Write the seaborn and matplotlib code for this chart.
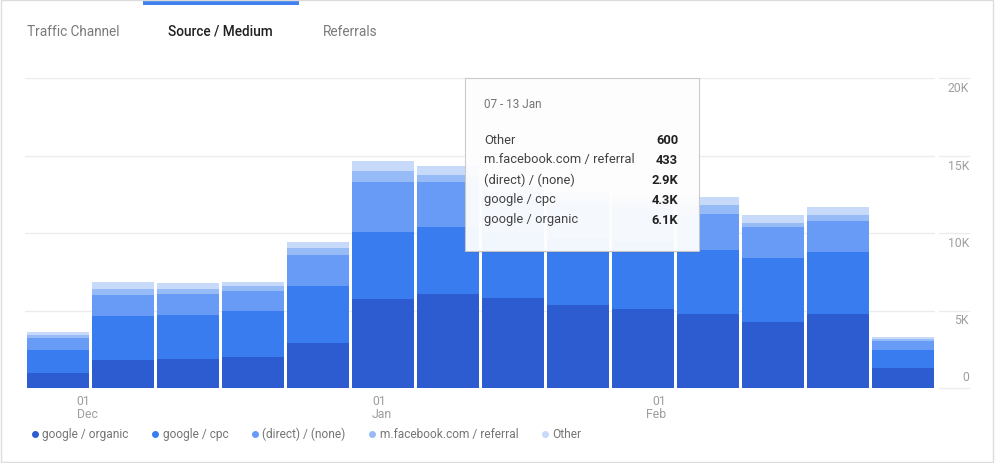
import numpy as np
import seaborn as sns
import matplotlib.pyplot as plt
from matplotlib.lines import Line2D
from matplotlib.patches import Rectangle

# weekly sessions per source / medium (weeks start on Monday)
weeks = ['26 Nov', '03 Dec', '10 Dec', '17 Dec', '24 Dec', '31 Dec', '07 Jan',
         '14 Jan', '21 Jan', '28 Jan', '04 Feb', '11 Feb', '18 Feb', '25 Feb']
sources = ['google / organic', 'google / cpc', '(direct) / (none)',
           'm.facebook.com / referral', 'Other']
organic = [970, 1810, 1870, 2000, 2910, 5750, 6080, 5820, 5370, 5110, 4780, 4270, 4780, 1290]
cpc = [1490, 2840, 2850, 2970, 3680, 4330, 4330, 4200, 4300, 4300, 4140, 4140, 4010, 1160]
direct = [780, 1360, 1360, 1290, 2000, 3230, 2910, 2300, 2200, 2200, 2330, 2000, 2000, 580]
facebook = [190, 390, 320, 320, 450, 710, 433, 350, 300, 300, 580, 260, 390, 130]
other = [190, 450, 390, 260, 390, 650, 600, 450, 450, 400, 520, 520, 520, 130]
colors = ['#2c5cd0', '#397cf0', '#679bf5', '#97bbf7', '#c7daf9']

y_ticks = [0, 5000, 10000, 15000, 20000]
x_tick_labels = ['01\nDec', '01\nJan', '01\nFeb']
x_tick_pos = [0.29, 4.83, 9.36]

tabs = ['Traffic Channel', 'Source / Medium', 'Referrals']
tooltip_title = '07 - 13 Jan'
hover = 6  # index of the hovered week

sns.set_style('white')
plt.rcParams['font.family'] = ['Roboto', 'DejaVu Sans']

W, H = 996, 463
fig = plt.figure(figsize=(W / 100, H / 100), dpi=100)


def fx(px):
    return px / W


def fy(py):
    return 1 - py / H


def fmt_k(v):
    if v >= 1000:
        return f'{v / 1000:.1f}K'
    return str(int(v))


ax = fig.add_axes([fx(25), fy(388), fx(935) - fx(25), fy(78) - fy(388)])

series = [organic, cpc, direct, facebook, other]
stack = np.cumsum(np.array(series, dtype=float), axis=0)
# draw the tallest cumulative layer first, smaller ones on top
for i in reversed(range(len(series))):
    sns.barplot(x=weeks, y=stack[i], order=weeks, color=colors[i], saturation=1,
                width=0.954, linewidth=0, errorbar=None, ax=ax)

ax.set_xlim(-0.508, 13.492)
ax.set_ylim(0, 20000)
ax.set_yticks(y_ticks)
ax.set_yticklabels([])
ax.tick_params(axis='y', left=False, right=False)
ax.grid(axis='y', color='#ececec', linewidth=1)
ax.set_axisbelow(True)
for s in ax.spines.values():
    s.set_visible(False)
ax.set_xlabel('')
ax.set_ylabel('')

ax.set_xticks(x_tick_pos, x_tick_labels)
ax.tick_params(axis='x', length=4, width=0.8, color='#d9d9d9', labelcolor='#9e9e9e',
               labelsize=8.8, pad=1)
xl = ax.get_xticklabels()
for k, lab in enumerate(xl):
    lab.set_ha('right' if k == len(xl) - 1 else 'left')
    lab.set_linespacing(1.0)

# right hand value axis
ytr = ax.get_yaxis_transform()
for v in y_ticks:
    ax.plot([1.0044, 1.0374], [v, v], transform=ytr, color='#ececec', lw=1, clip_on=False)
    ax.annotate('0' if v == 0 else f'{v // 1000}K', xy=(1.0374, v), xycoords=ytr,
                xytext=(0, -4 if v else 4), textcoords='offset pixels',
                ha='right', va='top' if v else 'bottom', color='#9e9e9e', fontsize=8.8)

# legend
handles = [Line2D([], [], marker='o', linestyle='', markersize=4, color=c) for c in colors]
ax.legend(handles, sources, loc='center left', bbox_to_anchor=(fx(32), fy(434)),
          bbox_transform=fig.transFigure, ncol=5, frameon=False, handlelength=0.5,
          handletextpad=0.35, columnspacing=2.0, fontsize=8.6, labelcolor='#757575',
          borderpad=0, borderaxespad=0)

# tabs
tab_x = [27, 168, 323]
for t, x in zip(tabs, tab_x):
    active = t == 'Source / Medium'
    fig.text(fx(x), fy(32), t, va='center', fontsize=9.8,
             color='#212121' if active else '#7a7a7a',
             fontweight='medium' if active else 'normal')
fig.patches.append(Rectangle((fx(143), fy(5)), 156 / W, 4 / H, transform=fig.transFigure,
                             facecolor='#4182f0', edgecolor='none'))

# tooltip
fig.patches.append(Rectangle((fx(466), fy(253)), 234 / W, 174 / H, transform=fig.transFigure,
                             facecolor='black', alpha=0.07, edgecolor='none'))
fig.patches.append(Rectangle((fx(465), fy(251)), 234 / W, 173 / H, transform=fig.transFigure,
                             facecolor='white', alpha=0.94, edgecolor='#c8c8c8', lw=0.8))
fig.text(fx(484), fy(105), tooltip_title, va='center', fontsize=8.5, color='#757575')
for j, i in enumerate(reversed(range(len(series)))):
    yy = fy(140 + 20 * j)
    fig.text(fx(484), yy, sources[i], va='center', fontsize=9.3, color='#424242')
    fig.text(fx(678), yy, fmt_k(series[i][hover]), va='center', ha='right', fontsize=9.3,
             color='#212121', fontweight='bold')

# card border
fig.patches.append(Rectangle((fx(1), fy(462)), 992 / W, 462 / H, transform=fig.transFigure,
                             fill=False, edgecolor='#dcdcdc', lw=1))

fig.savefig('out.png', dpi=100)
